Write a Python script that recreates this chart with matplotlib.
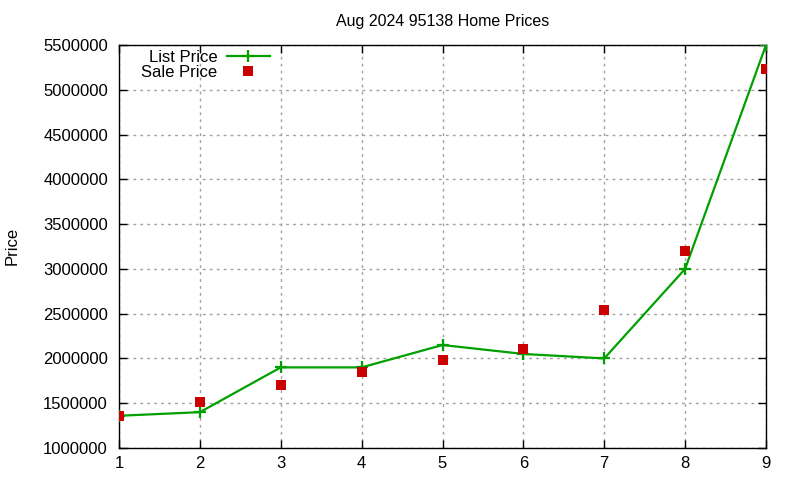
import numpy as np
import matplotlib
matplotlib.use('Agg')
import matplotlib.pyplot as plt
from matplotlib.ticker import FixedLocator, FuncFormatter

# 数据：按房屋序号的挂牌价与成交价
homes = [1, 2, 3, 4, 5, 6, 7, 8, 9]
list_price = [1360000, 1400000, 1900000, 1900000, 2150000, 2050000, 2000000, 3000000, 5500000]
sale_price = [1360000, 1510000, 1700000, 1845000, 1985000, 2105000, 2545000, 3205000, 5230000]
x_ticks = [1, 2, 3, 4, 5, 6, 7, 8, 9]
y_ticks = [1000000, 1500000, 2000000, 2500000, 3000000, 3500000, 4000000, 4500000, 5000000, 5500000]

GREEN = '#00a000'
RED = '#cc0000'

plt.rcParams['font.family'] = ['Liberation Sans', 'DejaVu Sans']
plt.rcParams['font.size'] = 12

fig = plt.figure(figsize=(8, 4.8), dpi=100)
ax = fig.add_axes([119 / 800, 1 - 448 / 480, (766 - 119) / 800, (448 - 45) / 480])

ax.plot(homes, list_price, color=GREEN, lw=1.6, marker='+', ms=8, mew=1.6,
        label='List Price', zorder=3)
ax.plot(homes, sale_price, ls='none', marker='s', ms=6.6, mew=0, color=RED,
        label='Sale Price', zorder=5)

leg = ax.legend(loc='upper left', bbox_to_anchor=(0.014, 1.02), frameon=False,
                markerfirst=False, handlelength=2.6, handletextpad=0.55,
                labelspacing=0.0, borderpad=0.3)
for t in leg.get_texts():
    t.set_ha('right')

ax.set_xlim(1, 9)
ax.set_ylim(1000000, 5500000)
ax.xaxis.set_major_locator(FixedLocator(x_ticks))
ax.yaxis.set_major_locator(FixedLocator(y_ticks))
ax.yaxis.set_major_formatter(FuncFormatter(lambda v, p: f'{int(v)}'))
ax.tick_params(direction='in', length=6, width=1, top=True, right=True)
ax.tick_params(axis='y', pad=8)
ax.tick_params(axis='x', pad=6)
ax.grid(True, color='#a0a0a0', ls=(0, (2, 3)), lw=1)
for s in ax.spines.values():
    s.set_linewidth(1)

ax.set_title('Aug 2024 95138 Home Prices', fontsize=11.5, pad=14)
fig.text(12 / 800, 1 - 246 / 480, 'Price', rotation=90, ha='center', va='center')

fig.savefig('out.png', dpi=100)
